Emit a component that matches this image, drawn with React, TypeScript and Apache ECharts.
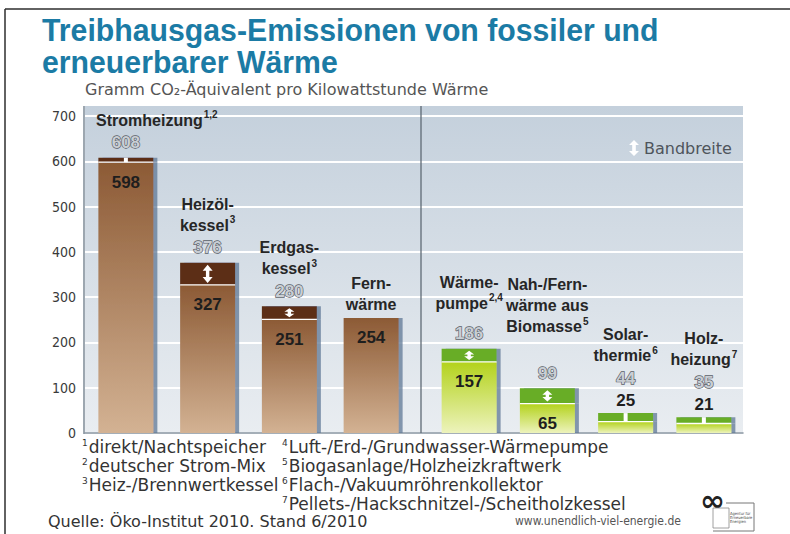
import React, { useEffect, useRef } from "react";
import * as echarts from "echarts";

// ---------------- data ----------------
const fossilCategories = ["Stromheizung", "Heizöl-\nkessel", "Erdgas-\nkessel", "Fern-\nwärme"];
const fossilNotes = ["1,2", "3", "3", ""];
const fossilMin = [598, 327, 251, 254];
const fossilMax = [608, 376, 280, 254];

const renewableCategories = ["Wärme-\npumpe", "Nah-/Fern-\nwärme aus\nBiomasse", "Solar-\nthermie", "Holz-\nheizung"];
const renewableNotes = ["2,4", "5", "6", "7"];
const renewableMin = [157, 65, 25, 21];
const renewableMax = [186, 99, 44, 35];

const yMin = 0;
const yMax = 700;
const yStep = 100;

const titleLines = ["Treibhausgas-Emissionen von fossiler und", "erneuerbarer Wärme"];
const subtitle = "Gramm CO₂-Äquivalent pro Kilowattstunde Wärme";
const legendLabel = "Bandbreite";
const footnotesLeft: [string, string][] = [
  ["1", "direkt/Nachtspeicher"],
  ["2", "deutscher Strom-Mix"],
  ["3", "Heiz-/Brennwertkessel"],
];
const footnotesRight: [string, string][] = [
  ["4", "Luft-/Erd-/Grundwasser-Wärmepumpe"],
  ["5", "Biogasanlage/Holzheizkraftwerk"],
  ["6", "Flach-/Vakuumröhrenkollektor"],
  ["7", "Pellets-/Hackschnitzel-/Scheitholzkessel"],
];
const sourceText = "Quelle: Öko-Institut 2010. Stand 6/2010";
const urlText = "www.unendlich-viel-energie.de";

// ---------------- layout / style ----------------
const W = 790;
const H = 534;
const PLOT_L = 85;
const PLOT_R = 743;
const PLOT_TOP = 116;
const PLOT_BOT = 433;
const DIVIDER_X = 421;
const BAR_W = 55;
const SMALL_LIMIT = 40;
const SANS = "'Liberation Sans', Arial, sans-serif";
const DJ = "'DejaVu Sans', sans-serif";
const COND = "'DejaVu Sans Condensed', 'DejaVu Sans', sans-serif";
const TITLE_COLOR = "#1b7ba5";

const brownGrad = () =>
  new echarts.graphic.LinearGradient(0, 0, 0, 1, [
    { offset: 0, color: "#8c5a35" },
    { offset: 1, color: "#d3b293" },
  ]);
const greenGrad = () =>
  new echarts.graphic.LinearGradient(0, 0, 0, 1, [
    { offset: 0, color: "#b3d21c" },
    { offset: 1, color: "#edf3bc" },
  ]);

const shadow = { shadowColor: "rgba(95,120,150,0.75)", shadowOffsetX: 4, shadowOffsetY: 0, shadowBlur: 0 };

const nameStyle = { fontFamily: SANS, fontSize: 16, fontWeight: "bold", color: "#262626", lineHeight: 21 };
const supStyle = { fontFamily: SANS, fontSize: 10, fontWeight: "bold", color: "#262626", lineHeight: 21, verticalAlign: "top", padding: [0, 0, 5, 1] };
const maxStyle = {
  fontFamily: SANS,
  fontSize: 17,
  fontWeight: "bold",
  color: "#c9ced4",
  textBorderColor: "#5a6068",
  textBorderWidth: 1.3,
  lineHeight: 24,
};
const minStyle = { fontFamily: SANS, fontSize: 17, fontWeight: "bold", color: "#1e1e1e", lineHeight: 20 };

const renderBand = (_params: any, api: any) => {
  const i = api.value(0);
  const lo = api.value(1);
  const hi = api.value(2);
  if (!(hi > lo)) return { type: "group", children: [] };
  const pLo = api.coord([i, lo]);
  const pHi = api.coord([i, hi]);
  const cx = pLo[0];
  const yb = pLo[1];
  const yt = pHi[1];
  const h = yb - yt;
  const half = BAR_W / 2;
  const children: any[] = [
    { type: "line", shape: { x1: cx - half, y1: yb, x2: cx + half, y2: yb }, style: { stroke: "#ffffff", lineWidth: 1.3 } },
  ];
  if (h < 9) {
    children.push({ type: "rect", shape: { x: cx - 2, y: yt, width: 4, height: h }, style: { fill: "#ffffff" } });
  } else {
    const t = yt + 2;
    const b = yb - 2;
    const hh = Math.min(6, (b - t) * 0.4);
    const hw = 5;
    const sw = 1.7;
    children.push({
      type: "polygon",
      shape: {
        points: [
          [cx, t], [cx + hw, t + hh], [cx + sw, t + hh], [cx + sw, b - hh], [cx + hw, b - hh],
          [cx, b], [cx - hw, b - hh], [cx - sw, b - hh], [cx - sw, t + hh], [cx - hw, t + hh],
        ],
      },
      style: { fill: "#ffffff" },
    });
  }
  return { type: "group", children };
};

const text = (t: string, x: number, y: number, font: string, fill: string, extra: any = {}, el: any = {}) => ({
  type: "text",
  x,
  y,
  z: 10,
  ...el,
  style: { text: t, font, fill, align: "left", textAlign: "left", verticalAlign: "middle", textVerticalAlign: "middle", ...extra },
});

const footRich = (size: number) => ({
  s: { fontSize: Math.round(size * 0.55), fontFamily: DJ, fill: "#333333", color: "#333333", verticalAlign: "top", padding: [0, 1, 7, 0] },
  t: { fontSize: size, fontFamily: DJ, fill: "#333333", color: "#333333" },
});

const nameLines = (name: string, note: string, styleName: string) => {
  const parts = name.split("\n");
  return parts.map((s, k) => `{${styleName}|${s}}` + (k === parts.length - 1 && note ? `{sup|${note}}` : ""));
};

export default function App() {
  const ref = useRef<HTMLDivElement>(null);
  useEffect(() => {
    if (!ref.current) return;
    const chart = echarts.init(ref.current, undefined, { renderer: "svg" });

    const fossilRange = fossilMax.map((v, i) => v - fossilMin[i]);
    const renewRange = renewableMax.map((v, i) => v - renewableMin[i]);

    const footEl = (note: [string, string], x: number, y: number) =>
      text(`{s|${note[0]}}{t|${note[1]}}`, x, y, `17px ${DJ}`, "#333333", { rich: footRich(17) });

    const graphics: any[] = [
      {
        type: "rect",
        z: -10,
        shape: { x: PLOT_L, y: 106, width: PLOT_R - PLOT_L, height: PLOT_BOT - 106 },
        style: {
          fill: new echarts.graphic.LinearGradient(0, 0, 0, 1, [
            { offset: 0, color: "#c4d0dc" },
            { offset: 1, color: "#e9edf1" },
          ]),
        },
      },
      { type: "line", z: 5, shape: { x1: PLOT_L - 1, y1: 106, x2: PLOT_L - 1, y2: PLOT_BOT + 1 }, style: { stroke: "#7d8a96", lineWidth: 1.5 } },
      { type: "line", z: 5, shape: { x1: DIVIDER_X, y1: 106, x2: DIVIDER_X, y2: PLOT_BOT }, style: { stroke: "#5f6a75", lineWidth: 1.3 } },
      // legend icon
      {
        type: "polygon",
        z: 10,
        shape: {
          points: [[634, 140], [639, 145], [635.8, 145], [635.8, 151], [639, 151], [634, 156], [629, 151], [632.2, 151], [632.2, 145], [629, 145]],
        },
        style: { fill: "#ffffff" },
      },
      text(legendLabel, 644, 148, `16px ${DJ}`, "#4f555c"),
      text(titleLines[0], 42, 30, `bold 32px ${SANS}`, TITLE_COLOR, {}, { scaleX: 0.945 }),
      text(titleLines[1], 42, 62, `bold 32px ${SANS}`, TITLE_COLOR, {}, { scaleX: 0.945 }),
      text(subtitle, 85, 89, `16px ${DJ}`, "#555555"),
      ...footnotesLeft.map((n, i) => footEl(n, 82, 447 + i * 19)),
      ...footnotesRight.map((n, i) => footEl(n, 282, 447 + i * 19)),
      text(sourceText, 48, 521, `16px ${DJ}`, "#333333"),
      text(urlText, 515, 521, `12px ${COND}`, "#555555"),
      text("∞", 700, 500, `bold 30px 'DejaVu Sans'`, "#222222"),
      { type: "polyline", z: 10, shape: { points: [[726, 503], [754, 503], [754, 531], [713, 531]] }, style: { stroke: "#777", lineWidth: 1, fill: null } },
      { type: "rect", z: 10, shape: { x: 713, y: 508, width: 16, height: 20 }, style: { stroke: "#888", lineWidth: 0.8, fill: "#ffffff" } },
      text("Agentur für\nErneuerbare\nEnergien", 730, 517, `4px ${COND}`, "#444444"),
      // frame
      { type: "line", z: 10, shape: { x1: 5, y1: 9, x2: W, y2: 9 }, style: { stroke: "#2e2e2e", lineWidth: 1.5 } },
      { type: "line", z: 10, shape: { x1: 5, y1: 9, x2: 5, y2: H }, style: { stroke: "#2e2e2e", lineWidth: 1.5 } },
    ];

    const option: any = {
      animation: false,
      backgroundColor: "#ffffff",
      grid: [
        { left: PLOT_L, right: W - PLOT_R, top: PLOT_TOP, bottom: H - PLOT_BOT },
        { left: PLOT_L, right: W - 412, top: PLOT_TOP, bottom: H - PLOT_BOT },
        { left: 430, right: W - PLOT_R, top: PLOT_TOP, bottom: H - PLOT_BOT },
      ],
      xAxis: [
        {
          gridIndex: 0,
          type: "value",
          min: 0,
          max: 1,
          axisLine: { show: true, lineStyle: { color: "#8794a0", width: 1.5 } },
          axisTick: { show: false },
          axisLabel: { show: false },
          splitLine: { show: false },
        },
        { gridIndex: 1, type: "category", data: fossilCategories, show: false },
        { gridIndex: 2, type: "category", data: renewableCategories, show: false },
      ],
      yAxis: [
        {
          gridIndex: 0,
          type: "value",
          min: yMin,
          max: yMax,
          interval: yStep,
          axisLine: { show: false },
          axisTick: { show: false },
          axisLabel: { color: "#3a3a3a", fontSize: 14, fontFamily: COND, margin: 9 },
          splitLine: { show: true, lineStyle: { color: "#ffffff", width: 2 } },
        },
        { gridIndex: 1, type: "value", min: yMin, max: yMax, show: false, splitLine: { show: false } },
        { gridIndex: 2, type: "value", min: yMin, max: yMax, show: false, splitLine: { show: false } },
      ],
      series: [
        {
          type: "bar",
          xAxisIndex: 1,
          yAxisIndex: 1,
          stack: "fossil",
          barWidth: BAR_W,
          data: fossilMin,
          itemStyle: { color: brownGrad(), ...shadow },
          label: {
            show: true,
            position: "insideTop",
            distance: 10,
            formatter: (p: any) => `${fossilMin[p.dataIndex]}`,
            ...minStyle,
          },
        },
        {
          type: "bar",
          xAxisIndex: 1,
          yAxisIndex: 1,
          stack: "fossil",
          barWidth: BAR_W,
          data: fossilRange,
          itemStyle: { color: "#5b2e15", ...shadow },
          label: {
            show: true,
            position: "top",
            distance: 3,
            align: "center",
            formatter: (p: any) => {
              const i = p.dataIndex;
              const lines = nameLines(fossilCategories[i], fossilNotes[i], i === 0 ? "nw" : "n");
              if (fossilMax[i] > fossilMin[i]) lines.push(`{mx|${fossilMax[i]}}`);
              return lines.join("\n");
            },
            rich: { n: nameStyle, nw: { ...nameStyle, padding: [0, 0, 0, 62] }, sup: supStyle, mx: maxStyle },
          },
        },
        {
          type: "custom",
          xAxisIndex: 1,
          yAxisIndex: 1,
          z: 5,
          renderItem: renderBand,
          encode: { x: 0, y: [1, 2] },
          data: fossilMin.map((v, i) => [i, v, fossilMax[i]]),
        },
        {
          type: "bar",
          xAxisIndex: 2,
          yAxisIndex: 2,
          stack: "renew",
          barWidth: BAR_W,
          data: renewableMin,
          itemStyle: { color: greenGrad(), ...shadow },
          label: {
            show: true,
            position: "insideTop",
            distance: 10,
            formatter: (p: any) => (renewableMin[p.dataIndex] >= SMALL_LIMIT ? `${renewableMin[p.dataIndex]}` : ""),
            ...minStyle,
          },
        },
        {
          type: "bar",
          xAxisIndex: 2,
          yAxisIndex: 2,
          stack: "renew",
          barWidth: BAR_W,
          data: renewRange,
          itemStyle: { color: "#68ad25", ...shadow },
          label: {
            show: true,
            position: "top",
            distance: 3,
            align: "center",
            formatter: (p: any) => {
              const i = p.dataIndex;
              const lines = nameLines(renewableCategories[i], renewableNotes[i], "n");
              if (i === 0) lines.push("{gs|\u00a0}");
              if (i === 1) lines.push("{gl|\u00a0}");
              if (renewableMax[i] > renewableMin[i]) lines.push(`{mx|${renewableMax[i]}}`);
              if (renewableMin[i] < SMALL_LIMIT) lines.push(`{mn|${renewableMin[i]}}`);
              return lines.join("\n");
            },
            rich: {
              n: nameStyle,
              sup: supStyle,
              mx: maxStyle,
              mn: minStyle,
              gs: { fontSize: 6, lineHeight: 8 },
              gl: { fontSize: 6, lineHeight: 24 },
            },
          },
        },
        {
          type: "custom",
          xAxisIndex: 2,
          yAxisIndex: 2,
          z: 5,
          renderItem: renderBand,
          encode: { x: 0, y: [1, 2] },
          data: renewableMin.map((v, i) => [i, v, renewableMax[i]]),
        },
      ],
      graphic: { elements: graphics },
    };

    chart.setOption(option);
    return () => chart.dispose();
  }, []);

  return (
    <div
      ref={ref}
      style={{ position: "fixed", left: 0, top: 0, width: W, height: H, background: "#ffffff" }}
    />
  );
}
